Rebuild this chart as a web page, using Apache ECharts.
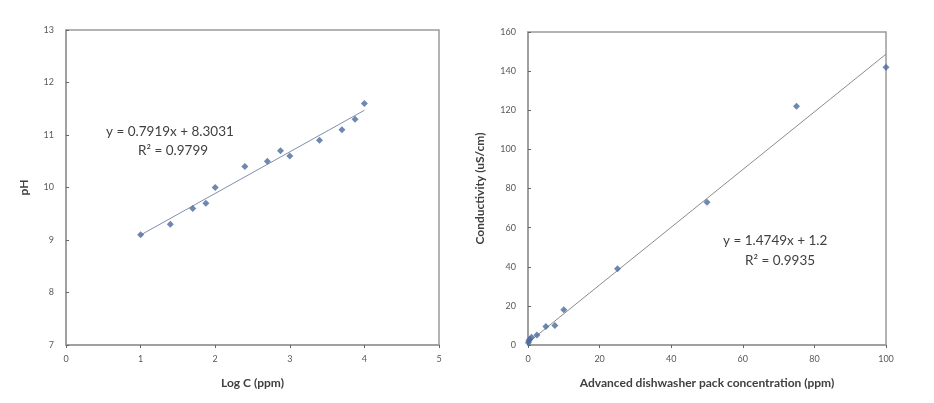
<!DOCTYPE html>
<html>
<head>
<meta charset="utf-8">
<script src="https://cdn.jsdelivr.net/npm/echarts@6/dist/echarts.min.js"></script>
<style>
html,body{margin:0;padding:0;background:#fff;}
#chart{width:934px;height:403px;}
</style>
</head>
<body>
<div id="chart"></div>
<script>
// Left chart: pH vs Log C
const logC = [1.0, 1.398, 1.699, 1.875, 2.0, 2.398, 2.699, 2.875, 3.0, 3.398, 3.699, 3.875, 4.0];
const pH   = [9.1, 9.3, 9.6, 9.7, 10.0, 10.4, 10.5, 10.7, 10.6, 10.9, 11.1, 11.3, 11.6];
const phTrendX = [1, 4];
const phTrendY = [9.095, 11.471];
const phEquation = ['y = 0.7919x + 8.3031', 'R\u00B2 = 0.9799'];

// Right chart: conductivity vs concentration
const conc  = [0.1, 0.25, 0.5, 1, 2.5, 5, 7.5, 10, 25, 50, 75, 100];
const cond  = [1.2, 2.2, 3.0, 3.9, 5.1, 9.5, 10, 18, 39, 73, 122, 142];
const condTrendX = [0, 100];
const condTrendY = [1.2, 148.69];
const condEquation = ['y = 1.4749x + 1.2', 'R\u00B2 = 0.9935'];

const font = 'Lato, "Open Sans", sans-serif';
const axisColor = '#9a9a9a';
const labelColor = '#595959';
const markerColor = '#4a6a9c';

function pairs(xs, ys){ return xs.map((x,i)=>[x, ys[i]]); }

const chart = echarts.init(document.getElementById('chart'), null, {renderer:'canvas'});

function xAxisCfg(gridIndex, min, max, interval, name){
  return {
    type:'value', gridIndex, min, max, interval, name,
    nameLocation:'middle', nameGap:32,
    nameTextStyle:{fontFamily:font, fontWeight:'bold', fontSize:12, color:'#404040'},
    axisLine:{show:true, onZero:false, lineStyle:{color:axisColor, width:1.5}},
    axisTick:{show:true, length:3, lineStyle:{color:'#666'}},
    axisLabel:{fontFamily:font, fontSize:9, color:labelColor, margin:10},
    splitLine:{show:false}
  };
}
function yAxisCfg(gridIndex, min, max, interval, name, gap){
  return {
    type:'value', gridIndex, min, max, interval, name,
    nameLocation:'middle', nameGap:gap,
    nameTextStyle:{fontFamily:font, fontWeight:'bold', fontSize:12, color:'#404040'},
    axisLine:{show:true, onZero:false, lineStyle:{color:axisColor, width:1.5}},
    axisTick:{show:true, length:3, inside:true, lineStyle:{color:'#666'}},
    axisLabel:{fontFamily:font, fontSize:9, color:labelColor, margin:12},
    splitLine:{show:false}
  };
}

const option = {
  backgroundColor:'#ffffff',
  animation:false,
  grid:[
    {left:66, top:30, width:373, height:315, show:true, borderColor:axisColor, borderWidth:1.5, backgroundColor:'transparent'},
    {left:528, top:32, width:358, height:313, show:true, borderColor:axisColor, borderWidth:1.5, backgroundColor:'transparent'}
  ],
  xAxis:[
    xAxisCfg(0, 0, 5, 1, 'Log C (ppm)'),
    xAxisCfg(1, 0, 100, 20, 'Advanced dishwasher pack concentration (ppm)')
  ],
  yAxis:[
    yAxisCfg(0, 7, 13, 1, 'pH', 36),
    yAxisCfg(1, 0, 160, 20, 'Conductivity (uS/cm)', 42)
  ],
  series:[
    {type:'line', xAxisIndex:0, yAxisIndex:0, data:pairs(phTrendX, phTrendY), showSymbol:false, symbol:'none',
     lineStyle:{color:'#7f90b0', width:1}, silent:true, z:2},
    {type:'scatter', xAxisIndex:0, yAxisIndex:0, data:pairs(logC, pH), symbol:'diamond', symbolSize:7,
     itemStyle:{color:markerColor}, z:3},
    {type:'line', xAxisIndex:1, yAxisIndex:1, data:pairs(condTrendX, condTrendY), showSymbol:false, symbol:'none',
     lineStyle:{color:'#8c8c8c', width:1}, silent:true, z:2},
    {type:'scatter', xAxisIndex:1, yAxisIndex:1, data:pairs(conc, cond), symbol:'diamond', symbolSize:7,
     itemStyle:{color:markerColor}, z:3}
  ],
  graphic:[
    {type:'text', left:106, top:125, style:{text:phEquation[0], font:'13.5px '+font, fill:'#404040'}},
    {type:'text', left:138, top:144, style:{text:phEquation[1], font:'13.5px '+font, fill:'#404040'}},
    {type:'text', left:723, top:234, style:{text:condEquation[0], font:'13.5px '+font, fill:'#404040'}},
    {type:'text', left:745, top:254, style:{text:condEquation[1], font:'13.5px '+font, fill:'#404040'}}
  ]
};
chart.setOption(option);
</script>
</body>
</html>
